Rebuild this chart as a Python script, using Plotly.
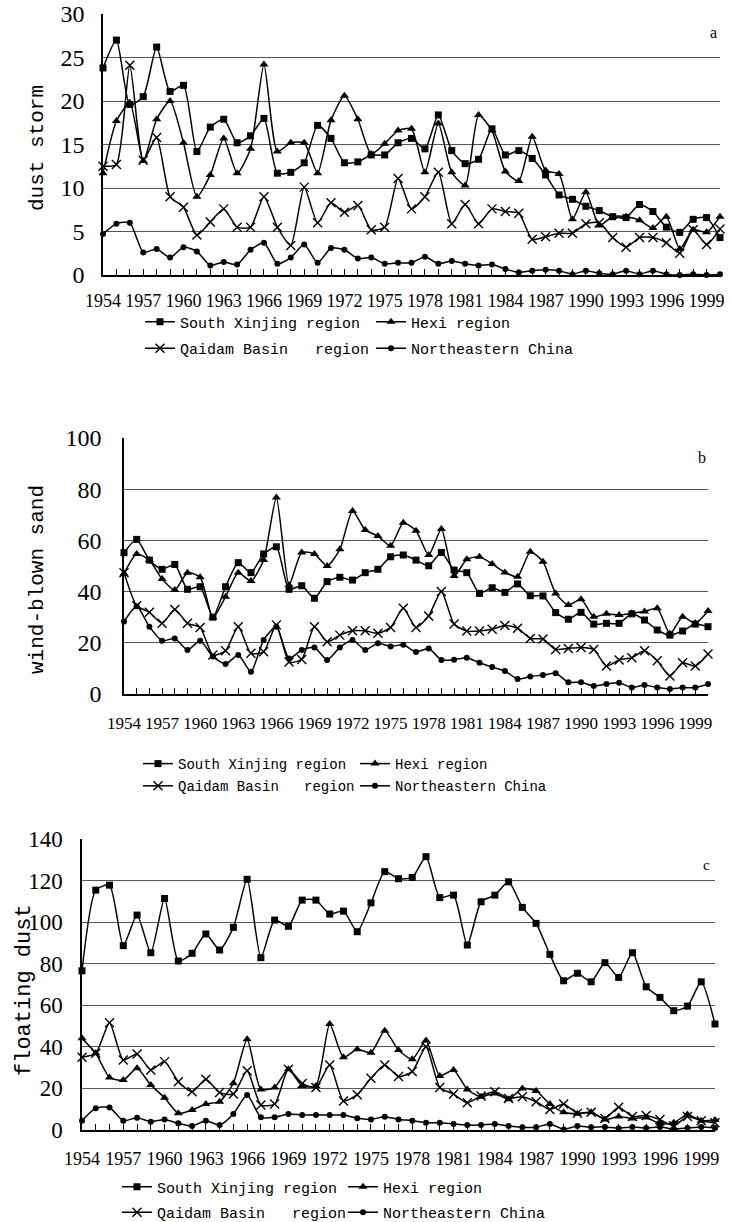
import plotly.graph_objects as go

years = list(range(1954, 2001))
tick_labels = [str(y) if (y - 1954) % 3 == 0 else "" for y in years]
series_names = ["South Xinjing region", "Hexi region",
                "Qaidam Basin\u00a0\u00a0\u00a0region", "Northeastern China"]

# panel a: dust storm
sx_a = [23.8, 27.0, 19.6, 20.5, 26.2, 21.1, 21.8, 14.2, 17.0, 17.9,
        15.2, 16.0, 18.0, 11.7, 11.8, 12.9, 17.2, 15.7, 12.9, 13.0,
        13.8, 13.8, 15.2, 15.7, 14.5, 18.4, 14.3, 12.8, 13.3, 16.8,
        13.8, 14.3, 13.4, 11.5, 9.2, 8.7, 7.9, 7.4, 6.7, 6.6,
        8.1, 7.3, 5.5, 4.9, 6.4, 6.6, 4.3]
hx_a = [11.7, 17.7, 19.8, 13.1, 17.9, 20.0, 15.2, 9.0, 11.5, 15.7,
        11.7, 14.5, 24.2, 14.2, 15.2, 15.2, 11.7, 17.8, 20.6, 17.9,
        13.9, 15.1, 16.6, 16.8, 11.8, 17.4, 11.8, 10.3, 18.4, 16.6,
        11.9, 10.8, 15.9, 12.0, 11.6, 6.4, 9.5, 5.7, 6.7, 6.7,
        6.3, 5.4, 6.7, 3.0, 5.2, 4.9, 6.7]
qd_a = [12.5, 12.7, 24.1, 13.2, 15.8, 9.0, 7.8, 4.6, 6.1, 7.6,
        5.5, 5.5, 9.0, 5.5, 3.4, 10.1, 6.0, 8.3, 7.2, 8.0,
        5.2, 5.5, 11.1, 7.6, 9.0, 11.8, 5.9, 8.1, 5.9, 7.6,
        7.3, 7.1, 4.1, 4.4, 4.8, 4.8, 5.9, 6.0, 4.3, 3.2,
        4.3, 4.3, 3.7, 2.5, 5.2, 3.5, 5.3]
ne_a = [4.7, 5.9, 6.0, 2.6, 3.0, 2.0, 3.2, 2.7, 1.1, 1.5,
        1.2, 2.9, 3.7, 1.3, 2.0, 3.5, 1.4, 3.1, 2.9, 1.9,
        2.0, 1.3, 1.4, 1.4, 2.1, 1.3, 1.6, 1.3, 1.1, 1.2,
        0.7, 0.3, 0.5, 0.6, 0.5, 0.1, 0.5, 0.2, 0.1, 0.5,
        0.1, 0.5, 0.1, 0.0, 0.1, 0.0, 0.1]

# panel b: wind-blown sand
sx_b = [55.2, 60.4, 52.3, 48.7, 50.6, 40.9, 41.9, 30.0, 41.9, 51.3,
        47.4, 54.7, 57.5, 40.9, 42.3, 37.4, 43.9, 45.6, 44.5, 47.4,
        48.7, 53.6, 54.3, 52.3, 50.1, 55.3, 48.4, 47.4, 39.3, 41.5,
        39.7, 43.0, 38.4, 38.3, 31.8, 29.2, 31.9, 27.3, 27.6, 27.6,
        31.3, 28.9, 25.0, 23.0, 24.6, 27.3, 26.3]
hx_b = [47.1, 54.7, 52.3, 44.9, 40.6, 47.4, 45.6, 29.9, 38.0, 47.4,
        44.1, 52.3, 76.8, 42.6, 55.3, 54.7, 50.0, 56.5, 71.5, 64.1,
        61.7, 57.9, 66.9, 63.8, 54.3, 64.5, 46.1, 52.6, 53.6, 50.8,
        47.5, 45.8, 55.6, 51.7, 39.3, 34.8, 37.0, 30.2, 31.3, 30.9,
        31.5, 32.2, 33.5, 23.5, 30.2, 27.6, 32.4]
qd_b = [47.4, 34.5, 31.9, 27.6, 33.0, 27.6, 26.0, 15.2, 16.9, 26.3,
        15.9, 16.5, 27.0, 12.5, 13.5, 26.3, 20.4, 23.0, 24.7, 24.7,
        23.7, 26.0, 33.5, 26.0, 30.5, 40.0, 27.3, 24.6, 24.6, 25.3,
        26.8, 25.7, 21.7, 21.5, 17.4, 17.8, 18.2, 17.4, 10.9, 13.3,
        14.2, 16.9, 13.0, 7.0, 12.2, 10.9, 15.6]
ne_b = [28.3, 34.3, 26.3, 20.8, 21.7, 17.2, 20.8, 14.6, 11.7, 15.2,
        8.7, 21.1, 26.3, 13.9, 17.2, 18.2, 13.3, 18.2, 21.1, 17.2,
        19.8, 18.6, 19.2, 16.4, 17.8, 13.3, 13.4, 14.2, 12.2, 10.5,
        9.0, 5.9, 6.8, 7.4, 8.1, 4.6, 4.6, 3.1, 3.9, 4.4,
        2.5, 3.5, 2.5, 2.0, 2.5, 2.5, 3.9]

# panel c: floating dust
sx_c = [76.6, 115.4, 117.8, 88.7, 103.4, 85.3, 111.4, 81.3, 85.0, 94.3,
        86.6, 97.5, 120.6, 82.9, 101.0, 98.0, 110.6, 110.6, 103.9, 105.3,
        95.4, 109.3, 124.3, 120.9, 121.5, 131.5, 111.8, 113.0, 89.0, 109.8,
        113.0, 119.4, 107.1, 99.4, 84.5, 71.8, 75.4, 71.3, 80.5, 73.4,
        85.3, 68.9, 63.8, 57.4, 59.6, 71.3, 51.0]
hx_c = [44.1, 36.9, 25.3, 24.0, 29.7, 21.6, 15.5, 8.0, 9.6, 12.5,
        13.6, 22.5, 43.6, 19.5, 20.5, 29.2, 21.2, 21.2, 51.0, 35.0,
        38.8, 37.2, 47.8, 38.5, 34.0, 43.0, 26.0, 28.9, 19.5, 16.0,
        17.6, 14.8, 20.0, 18.8, 12.5, 8.5, 7.8, 8.5, 5.0, 6.5,
        5.5, 6.0, 3.0, 3.5, 7.5, 4.5, 4.8]
qd_c = [35.0, 36.9, 51.6, 33.7, 36.6, 28.9, 32.9, 23.2, 18.4, 24.4,
        18.0, 17.3, 28.5, 12.0, 12.5, 29.2, 22.4, 20.5, 31.3, 14.0,
        17.0, 24.9, 31.3, 25.7, 28.1, 40.0, 20.5, 17.3, 13.1, 16.4,
        18.4, 15.2, 16.0, 13.6, 9.9, 12.5, 8.0, 8.5, 5.5, 11.0,
        6.5, 7.0, 5.0, 2.0, 6.5, 4.5, 3.5]
ne_c = [4.5, 10.5, 10.8, 4.5, 5.9, 4.0, 5.1, 3.2, 1.9, 4.5,
        2.4, 7.7, 16.8, 6.1, 6.1, 7.7, 7.2, 7.2, 7.2, 7.2,
        5.6, 5.1, 6.4, 5.1, 4.5, 3.5, 3.5, 2.9, 2.4, 2.4,
        2.9, 1.9, 1.3, 1.3, 2.9, 0.3, 1.9, 1.3, 1.5, 0.8,
        1.5, 1.0, 1.5, 0.5, 1.0, 1.5, 1.0]

W, H = 731, 1222
def px_x(p):
    return p / W
def px_y(p):
    return 1 - p / H

markers = [dict(symbol="square", size=7),
           dict(symbol="triangle-up", size=8),
           dict(symbol="x-thin-open", size=9, line=dict(width=1.4, color="black")),
           dict(symbol="circle", size=6)]

serif = "Liberation Serif"
mono = "Liberation Mono"

# per panel: symbol-left x of (col1, col2), (row1 y, row2 y), font size, gap between rows
legend_layout = [
    ((145, 376), (322, 348), 15, 4),
    ((143, 360), (764, 786), 14, 1),
    ((122, 348), (1187, 1212), 15, 3),
]
# column of each series: SX col1, Hexi col2, Qaidam col1, NE col2
series_col = [0, 1, 0, 1]

fig = go.Figure()
panels = [
    ("x", "y", [sx_a, hx_a, qd_a, ne_a]),
    ("x2", "y2", [sx_b, hx_b, qd_b, ne_b]),
    ("x3", "y3", [sx_c, hx_c, qd_c, ne_c]),
]
legend_defs = {}
for p, (xa, ya, data) in enumerate(panels):
    cx, ry, lfs, gap = legend_layout[p]
    lg_ids = []
    for col in range(2):
        n = 2 * p + col + 1
        lg_id = "legend" if n == 1 else f"legend{n}"
        lg_ids.append(lg_id)
        legend_defs[lg_id] = dict(
            x=px_x(cx[col] - 5), y=px_y((ry[0] + ry[1]) / 2),
            xanchor="left", yanchor="middle", orientation="v",
            traceorder="grouped", tracegroupgap=gap,
            bgcolor="rgba(0,0,0,0)", borderwidth=0,
            font=dict(family=mono, size=lfs, color="black"))
    for k, (name, vals, mk) in enumerate(zip(series_names, data, markers)):
        fig.add_trace(go.Scatter(
            x=years, y=vals, name=name, xaxis=xa, yaxis=ya,
            legend=lg_ids[series_col[k]], legendgroup=f"p{p}s{k}",
            mode="lines+markers", cliponaxis=False,
            line=dict(color="black", width=1.5, shape="spline", smoothing=0.6),
            marker=dict(color="black", **mk),
        ))

grid = "#555555"

def xaxis_cfg(domain, anchor, fsize, standoff):
    return dict(domain=domain, anchor=anchor, range=[1954, 2000], automargin=False,
                tickmode="array", tickvals=years, ticktext=tick_labels,
                ticks="inside", ticklen=6, tickwidth=1, tickcolor="black",
                showline=True, linecolor="black", linewidth=1.5,
                showgrid=False, zeroline=False,
                tickfont=dict(family=serif, size=fsize, color="black"),
                ticklabelstandoff=standoff)

def yaxis_cfg(domain, anchor, rng, dtick, fsize, tlen):
    return dict(domain=domain, anchor=anchor, range=rng, dtick=dtick, automargin=False,
                showline=True, linecolor="black", linewidth=1.5,
                showgrid=True, gridcolor=grid, gridwidth=1,
                zeroline=False, ticks="outside", ticklen=tlen,
                tickcolor="rgba(0,0,0,0)",
                tickfont=dict(family=serif, size=fsize, color="black"))

fig.update_layout(
    width=W, height=H,
    margin=dict(l=0, r=0, t=0, b=0, autoexpand=False),
    paper_bgcolor="white", plot_bgcolor="white",
    showlegend=True,
    xaxis=xaxis_cfg([px_x(103), px_x(720)], "y", 18, 9),
    yaxis=yaxis_cfg([px_y(275), px_y(14)], "x", [0, 30], 5, 24, 12),
    xaxis2=xaxis_cfg([px_x(124), px_x(708)], "y2", 17, 13),
    yaxis2=yaxis_cfg([px_y(694), px_y(438)], "x2", [0, 100], 20, 24, 16),
    xaxis3=xaxis_cfg([px_x(82), px_x(715)], "y3", 18, 12),
    yaxis3=yaxis_cfg([px_y(1130), px_y(839)], "x3", [0, 140], 20, 23, 13),
    **legend_defs,
)

annots = [
    ("dust storm", 38, 148, -90, mono, 21),
    ("wind-blown sand", 37, 580, -90, mono, 21),
    ("floating dust", 24, 990, -90, mono, 22),
    ("a", 713, 33, 0, serif, 16),
    ("b", 702, 457, 0, serif, 16),
    ("c", 706, 865, 0, serif, 15),
]
for text, ax_, ay_, ang, fam, fs in annots:
    fig.add_annotation(text=text, x=px_x(ax_), y=px_y(ay_), xref="paper", yref="paper",
                       xanchor="center", yanchor="middle", showarrow=False,
                       textangle=ang, font=dict(family=fam, size=fs, color="black"))

fig.write_html("out.html", config={"displayModeBar": False},
               post_script="document.body.style.margin='0px';document.body.style.overflow='hidden';")
